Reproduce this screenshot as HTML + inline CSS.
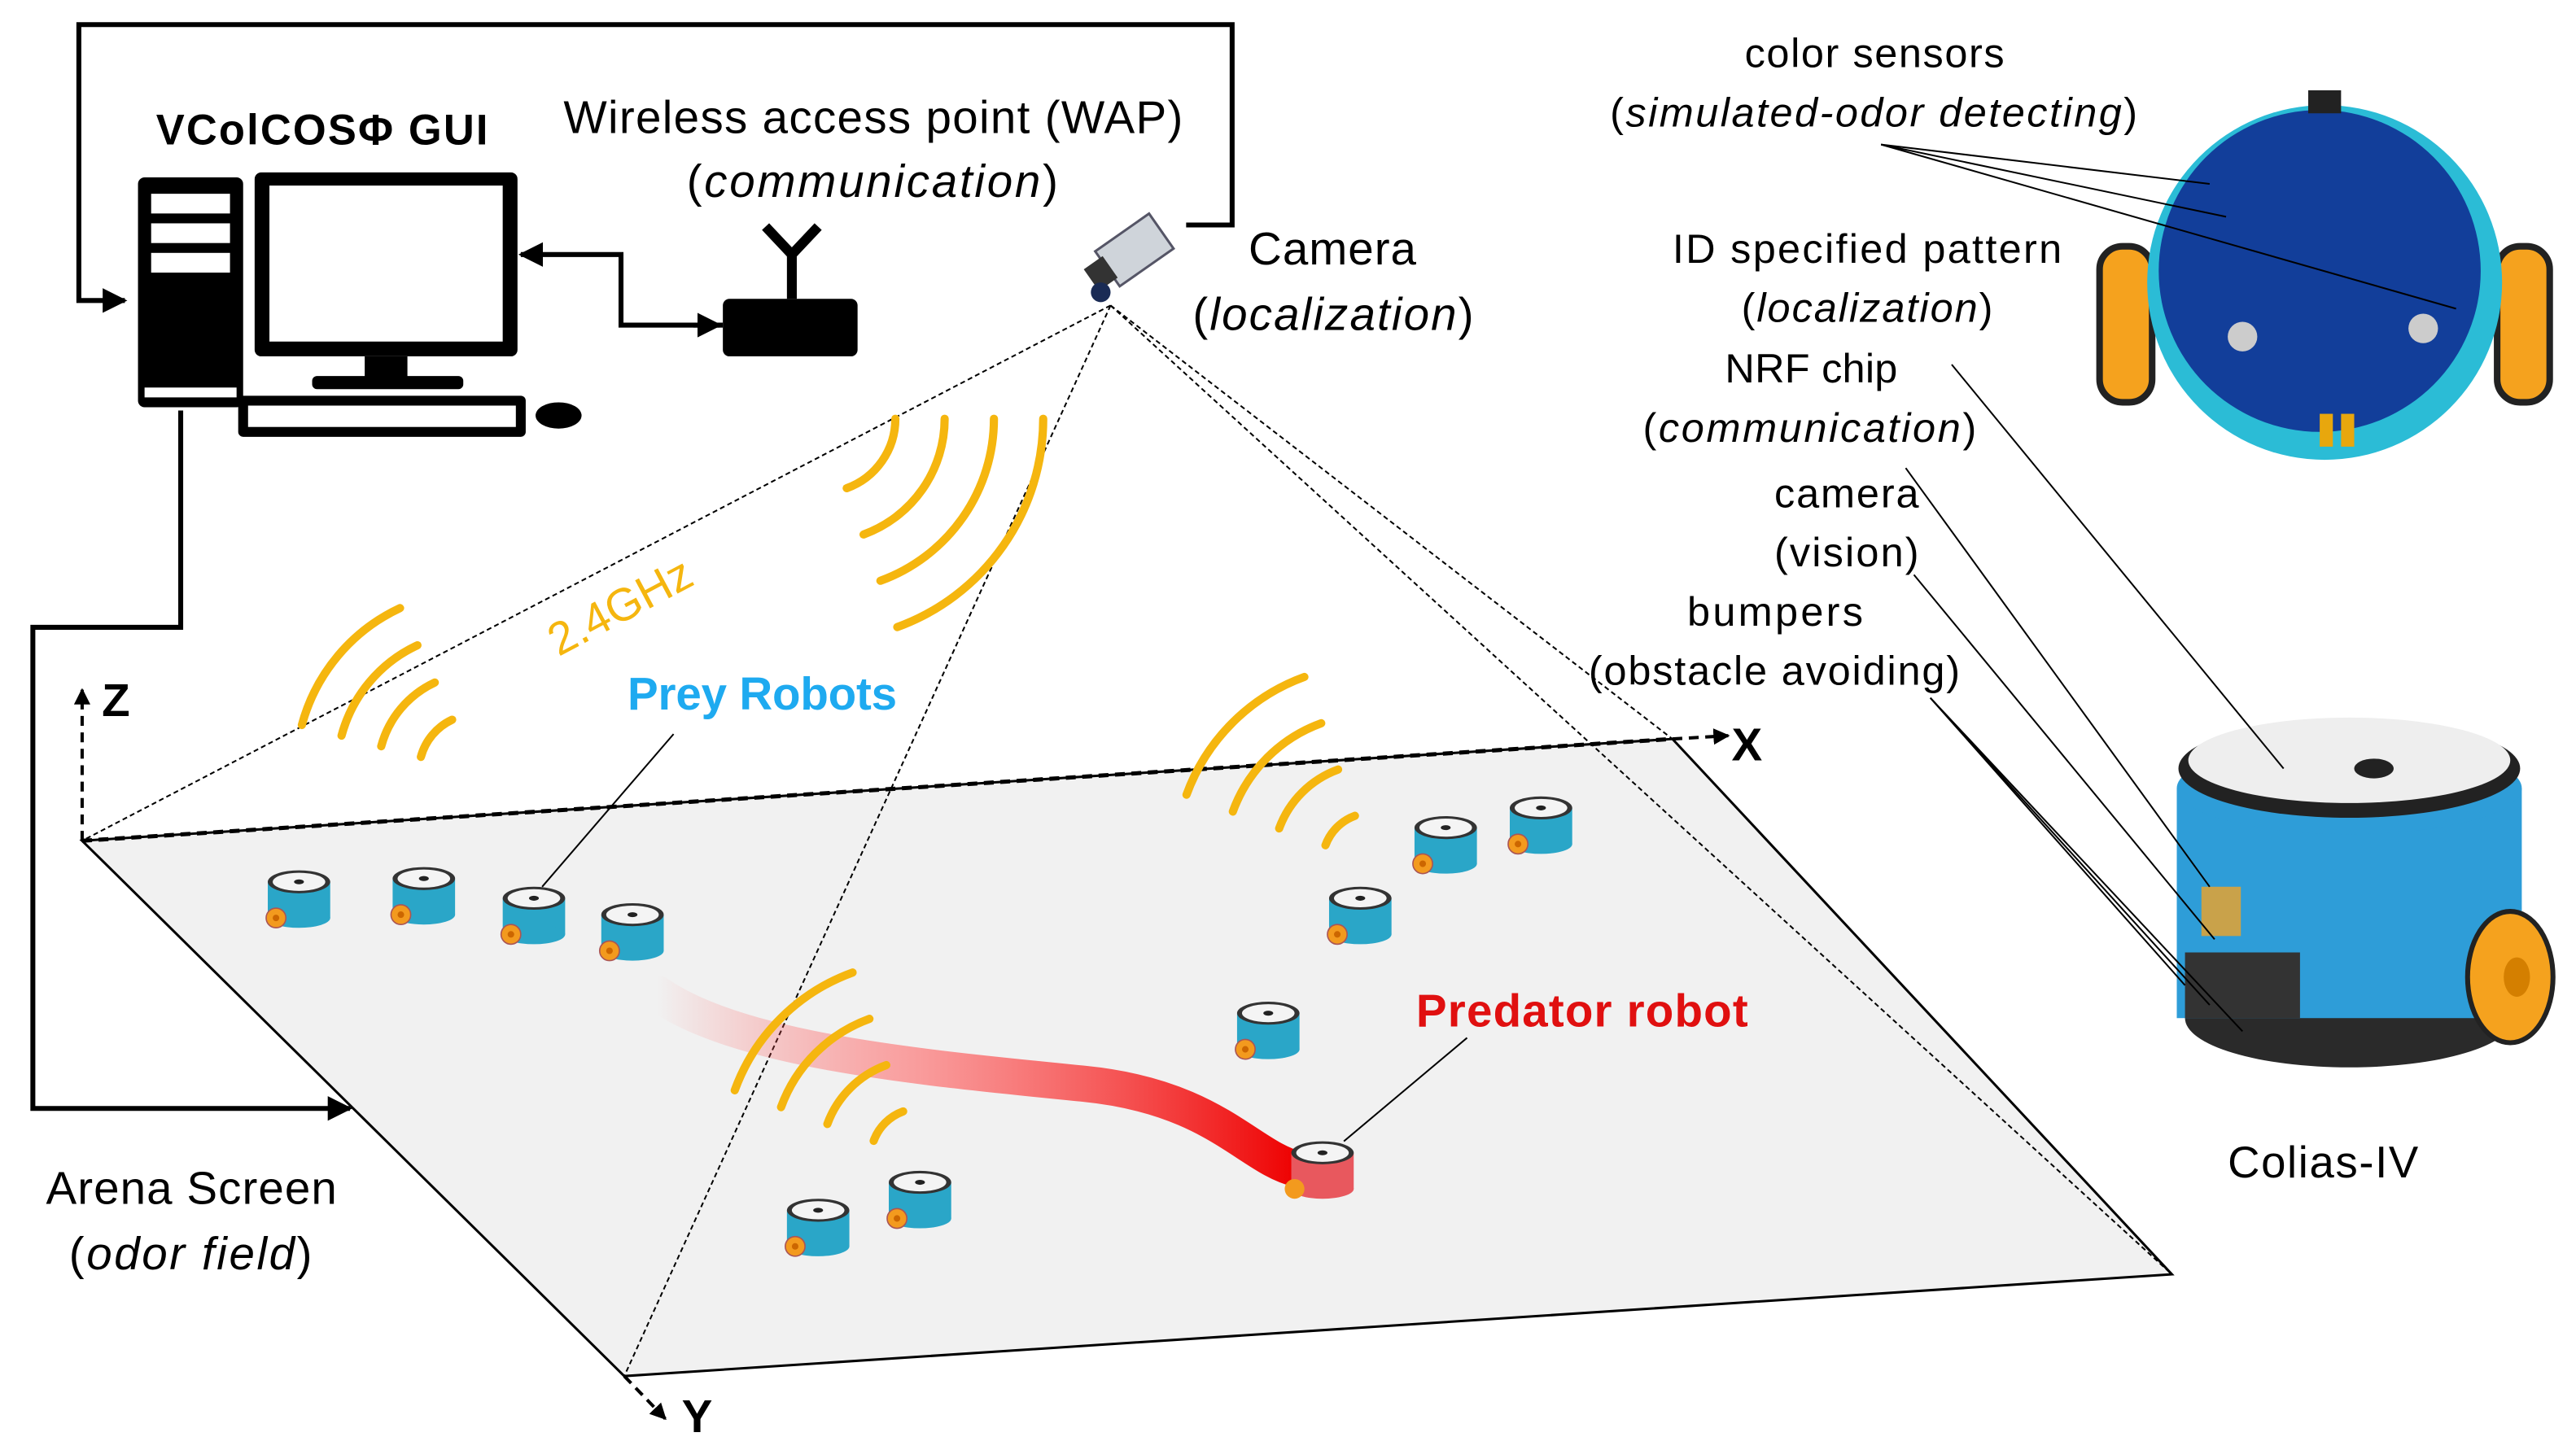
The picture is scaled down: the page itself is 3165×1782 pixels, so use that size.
<!DOCTYPE html>
<html><head><meta charset="utf-8"><style>
html,body{margin:0;padding:0;background:#fff;}
svg{display:block;}
text{font-family:"Liberation Sans","DejaVu Sans",sans-serif;}
</style></head><body>
<svg id="s" width="3165" height="1782" viewBox="0 0 1568 883" preserveAspectRatio="none" xmlns="http://www.w3.org/2000/svg">
<defs>
<marker id="ah" viewBox="0 0 10 10" refX="9" refY="5" markerWidth="5" markerHeight="5" orient="auto"><path d="M0,0L10,5L0,10z" fill="#000"/></marker>
<linearGradient id="tr" x1="0" x2="1" y1="0" y2="0"><stop offset="0" stop-color="#f44" stop-opacity="0"/><stop offset="0.4" stop-color="#f66" stop-opacity="0.6"/><stop offset="1" stop-color="#e00"/></linearGradient>
<g id="rb">
<rect x="-19" y="-8" width="38" height="22" fill="#2aa6c8"/>
<ellipse cx="0" cy="14" rx="19" ry="6" fill="#2aa6c8"/>
<ellipse cx="0" cy="-8" rx="19" ry="7" fill="#333"/>
<ellipse cx="0" cy="-8" rx="16" ry="5.5" fill="#f4f4f4"/>
<ellipse cx="0" cy="-8" rx="3" ry="1.5" fill="#222"/>
<circle cx="-14" cy="14" r="6" fill="#f39a1e" stroke="#a55" stroke-width="0.8"/>
<circle cx="-14" cy="14" r="2" fill="#c60"/>
</g>
<g id="rr">
<rect x="-19" y="-8" width="38" height="22" fill="#e8585e"/>
<ellipse cx="0" cy="14" rx="19" ry="6" fill="#e8585e"/>
<ellipse cx="0" cy="-8" rx="19" ry="7" fill="#333"/>
<ellipse cx="0" cy="-8" rx="16" ry="5.5" fill="#f4f4f4"/>
<ellipse cx="0" cy="-8" rx="3" ry="1.5" fill="#222"/>
<circle cx="-17" cy="14" r="6" fill="#f39a1e"/>
</g>
</defs>
<polygon points="50,512 1018,450 1322,776 380,838" fill="#f1f1f1" stroke="#000" stroke-width="1.5"/>
<line x1="50" y1="512" x2="1018" y2="450" stroke="#000" stroke-width="2.5" stroke-dasharray="6,4"/>
<line x1="50" y1="512" x2="50" y2="420" stroke="#000" stroke-width="2" stroke-dasharray="6,4" marker-end="url(#ah)"/>
<line x1="1018" y1="450" x2="1052" y2="448" stroke="#000" stroke-width="2" stroke-dasharray="6,4" marker-end="url(#ah)"/>
<line x1="380" y1="838" x2="405" y2="864" stroke="#000" stroke-width="2" stroke-dasharray="6,4" marker-end="url(#ah)"/>
<text x="62" y="436" font-size="28" font-weight="bold">Z</text>
<text x="1054" y="463" font-size="28" font-weight="bold">X</text>
<text x="415" y="872" font-size="28" font-weight="bold">Y</text>
<g stroke="#000" stroke-width="1" stroke-dasharray="3,2" fill="none">
<line x1="676" y1="186" x2="50" y2="512"/><line x1="676" y1="186" x2="1018" y2="450"/>
<line x1="676" y1="186" x2="1322" y2="776"/><line x1="676" y1="186" x2="380" y2="838"/>
</g>
<path d="M400,605 C450,640 560,650 660,660 C740,668 760,705 790,712" stroke="url(#tr)" stroke-width="22" fill="none" stroke-linecap="round"/>
<g id="arcs" stroke="#f5b60f" stroke-width="5" fill="none" stroke-linecap="round"></g>
<use href="#rb" x="182" y="545"/><use href="#rb" x="258" y="543"/><use href="#rb" x="325" y="555"/><use href="#rb" x="385" y="565"/>
<use href="#rb" x="828" y="555"/><use href="#rb" x="880" y="512"/><use href="#rb" x="938" y="500"/><use href="#rb" x="772" y="625"/>
<use href="#rb" x="498" y="745"/><use href="#rb" x="560" y="728"/>
<use href="#rr" x="805" y="710"/>
<line x1="410" y1="447" x2="330" y2="540" stroke="#000" stroke-width="1"/>
<line x1="893" y1="632" x2="818" y2="695" stroke="#000" stroke-width="1"/>
<text x="382" y="432" font-size="28" font-weight="bold" fill="#1eaaf0" textLength="164">Prey Robots</text>
<text x="862" y="625" font-size="28" font-weight="bold" fill="#e01010" textLength="202">Predator robot</text>
<text x="340" y="400" font-size="28" fill="#f5b60f" transform="rotate(-28 340 400)">2.4GHz</text>
<g stroke="#000" stroke-width="3" fill="none">
<polyline points="110,250 110,382 20,382 20,675 213,675" marker-end="url(#ah)"/>
<polyline points="722,137 750,137 750,15 48,15 48,183 76,183" marker-end="url(#ah)"/>
<polyline points="440,198 378,198 378,155 317,155" marker-end="url(#ah)"/>
<line x1="422" y1="198" x2="438" y2="198" marker-end="url(#ah)"/>
</g>
<rect x="84" y="108" width="64" height="140" rx="4" fill="#000"/>
<rect x="92" y="118" width="48" height="12" fill="#fff"/><rect x="92" y="136" width="48" height="12" fill="#fff"/><rect x="92" y="154" width="48" height="12" fill="#fff"/>
<rect x="88" y="236" width="56" height="6" fill="#fff"/>
<rect x="155" y="105" width="160" height="112" rx="4" fill="#000"/>
<rect x="164" y="113" width="142" height="95" fill="#fff"/>
<rect x="222" y="217" width="26" height="14" fill="#000"/>
<rect x="190" y="229" width="92" height="8" rx="3" fill="#000"/>
<rect x="145" y="241" width="175" height="25" rx="3" fill="#000"/>
<rect x="151" y="247" width="163" height="13" fill="#fff"/>
<ellipse cx="340" cy="253" rx="14" ry="8" fill="#000"/>
<rect x="440" y="182" width="82" height="35" rx="4" fill="#000"/>
<line x1="482" y1="182" x2="482" y2="155" stroke="#000" stroke-width="6"/>
<polyline points="466,138 482,155 498,138" stroke="#000" stroke-width="6" fill="none"/>
<g transform="rotate(-35 690 155)">
<rect x="672" y="140" width="40" height="26" fill="#cfd4da" stroke="#556" stroke-width="1.5"/>
<rect x="660" y="145" width="14" height="16" fill="#333"/>
</g>
<circle cx="670" cy="178" r="6" fill="#1a2b55"/>
<text x="95" y="88" font-size="26" font-weight="bold" textLength="202">VColCOSΦ GUI</text>
<text x="343" y="81" font-size="28" textLength="377">Wireless access point (WAP)</text>
<text x="418" y="120" font-size="28" textLength="226">(<tspan font-style="italic">communication</tspan>)</text>
<text x="760" y="161" font-size="28" textLength="102">Camera</text>
<text x="726" y="201" font-size="28" textLength="171">(<tspan font-style="italic">localization</tspan>)</text>
<text x="28" y="733" font-size="28" textLength="177">Arena Screen</text>
<text x="42" y="773" font-size="28" textLength="148">(<tspan font-style="italic">odor field</tspan>)</text>
<text x="1062" y="41" font-size="25" textLength="158">color sensors</text>
<text x="980" y="77" font-size="25" textLength="321">(<tspan font-style="italic">simulated-odor detecting</tspan>)</text>
<text x="1018" y="160" font-size="25" textLength="237">ID specified pattern</text>
<text x="1060" y="196" font-size="25" textLength="153">(<tspan font-style="italic">localization</tspan>)</text>
<text x="1050" y="233" font-size="25" textLength="105">NRF chip</text>
<text x="1000" y="269" font-size="25" textLength="203">(<tspan font-style="italic">communication</tspan>)</text>
<text x="1080" y="309" font-size="25" textLength="88">camera</text>
<text x="1080" y="345" font-size="25" textLength="88">(vision)</text>
<text x="1027" y="381" font-size="25" textLength="107">bumpers</text>
<text x="967" y="417" font-size="25" textLength="226">(obstacle avoiding)</text>
<text x="1356" y="717" font-size="27" textLength="116">Colias-IV</text>
<!-- top board -->
<rect x="1278" y="150" width="32" height="95" rx="14" fill="#f5a21e" stroke="#222" stroke-width="4"/>
<rect x="1520" y="150" width="32" height="95" rx="14" fill="#f5a21e" stroke="#222" stroke-width="4"/>
<ellipse cx="1415" cy="172" rx="108" ry="108" fill="#2bbcd6"/>
<ellipse cx="1412" cy="165" rx="98" ry="98" fill="#123e9a"/>
<rect x="1405" y="55" width="20" height="14" fill="#222"/>
<rect x="1412" y="252" width="8" height="20" fill="#e8a70d"/><rect x="1425" y="252" width="8" height="20" fill="#e8a70d"/>
<circle cx="1365" cy="205" r="9" fill="#ccc"/><circle cx="1475" cy="200" r="9" fill="#ccc"/>
<!-- side robot -->
<ellipse cx="1430" cy="620" rx="100" ry="30" fill="#2a2a2a"/>
<rect x="1325" y="480" width="210" height="140" fill="#2e9dd8"/>
<ellipse cx="1430" cy="480" rx="105" ry="28" fill="#2e9dd8"/>
<ellipse cx="1430" cy="468" rx="104" ry="30" fill="#222"/>
<ellipse cx="1430" cy="463" rx="98" ry="26" fill="#eee"/>
<ellipse cx="1445" cy="468" rx="12" ry="6" fill="#222"/>
<rect x="1340" y="540" width="24" height="30" fill="#c9a24a"/>
<rect x="1330" y="580" width="70" height="40" fill="#333"/>
<ellipse cx="1528" cy="595" rx="26" ry="40" fill="#f5a21e" stroke="#222" stroke-width="3"/>
<ellipse cx="1532" cy="595" rx="8" ry="12" fill="#d47f00"/>
<g stroke="#000" stroke-width="1">
<line x1="1145" y1="88" x2="1345" y2="112"/><line x1="1145" y1="88" x2="1355" y2="132"/><line x1="1145" y1="88" x2="1495" y2="188"/>
<line x1="1188" y1="222" x2="1390" y2="468"/>
<line x1="1160" y1="285" x2="1345" y2="540"/>
<line x1="1165" y1="350" x2="1348" y2="572"/>
<line x1="1175" y1="425" x2="1330" y2="600"/><line x1="1175" y1="425" x2="1345" y2="612"/><line x1="1175" y1="425" x2="1365" y2="628"/>
</g>
</svg>
<script>
var g=document.getElementById('arcs');
function arcs(cx,cy,a1,a2,rs){rs.forEach(function(r){var t1=a1*Math.PI/180,t2=a2*Math.PI/180;
var p=document.createElementNS('http://www.w3.org/2000/svg','path');
p.setAttribute('d','M'+(cx+r*Math.cos(t1))+','+(cy+r*Math.sin(t1))+' A'+r+','+r+' 0 0 1 '+(cx+r*Math.cos(t2))+','+(cy+r*Math.sin(t2)));
g.appendChild(p);});}
arcs(290,470,195,245,[35,60,85,110]);
arcs(500,255,0,70,[45,75,105,135]);
arcs(835,525,200,250,[30,60,90,120]);
arcs(560,705,200,250,[30,60,90,120]);
</script>
</body></html>
